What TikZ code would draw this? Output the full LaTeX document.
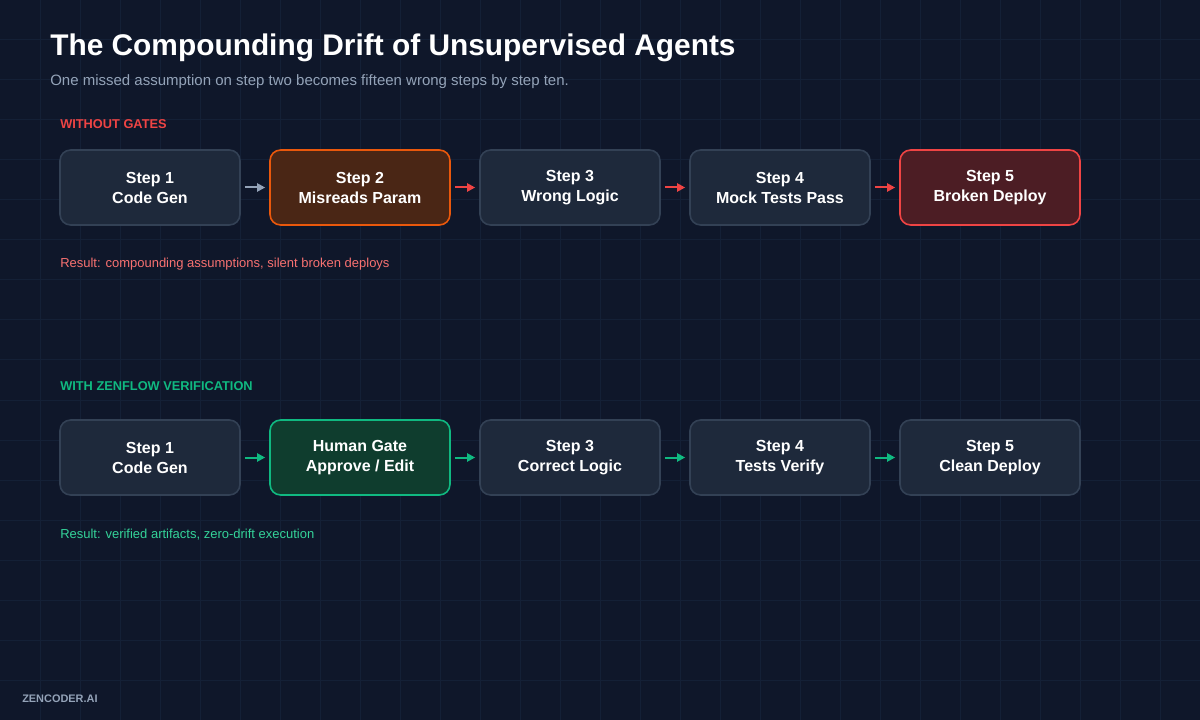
\documentclass[tikz,border=0pt]{standalone}
\usepackage{fontspec}
\setmainfont{Liberation Sans}
\usetikzlibrary{arrows.meta}
\definecolor{bg}{HTML}{0F172A}
\definecolor{gridc}{HTML}{142036}
\definecolor{boxfill}{HTML}{1E293B}
\definecolor{boxline}{HTML}{334155}
\definecolor{subc}{HTML}{94A3B8}
\definecolor{redc}{HTML}{EF4444}
\definecolor{redtxt}{HTML}{F87171}
\definecolor{orangec}{HTML}{EA580C}
\definecolor{orangefill}{HTML}{4A2615}
\definecolor{redfill}{HTML}{4C1D24}
\definecolor{greenc}{HTML}{10B981}
\definecolor{greenfill}{HTML}{0F3D2E}
\definecolor{greentxt}{HTML}{34D399}
\definecolor{footc}{HTML}{94A3B8}
\tikzset{
  stepbox/.style={draw=boxline, fill=boxfill, line width=1.2pt, rounded corners=8pt,
    minimum width=135pt, minimum height=56.25pt, inner sep=0pt, align=center,
    font=\fontsize{12}{15}\selectfont\bfseries, text=white},
  warnbox/.style={stepbox, draw=orangec, fill=orangefill},
  failbox/.style={stepbox, draw=redc, fill=redfill},
  gatebox/.style={stepbox, draw=greenc, fill=greenfill},
  flow/.style={-{Triangle[length=6pt,width=6pt]}, line width=1.5pt, shorten <=3pt, shorten >=3pt},
  lbl/.style={anchor=base west, inner sep=0pt}
}
\begin{document}
\begin{tikzpicture}[x=0.75pt,y=-0.75pt]
\fill[bg] (0,0) rectangle (1200,720);
\useasboundingbox (0,0) rectangle (1200,720);
\foreach \i in {40,80,...,1160} \draw[gridc, line width=0.75pt] (\i,0) -- (\i,720);
\foreach \j in {40,80,...,680} \draw[gridc, line width=0.75pt] (0,\j) -- (1200,\j);

\node[lbl, text=white, font=\fontsize{22.4}{27}\selectfont\bfseries] (title) at (50,56) {The Compounding Drift of Unsupervised Agents};
\node[lbl, text=subc, font=\fontsize{11.25}{14}\selectfont] (sub) at (50,86) {One missed assumption on step two becomes fifteen wrong steps by step ten.};

\node[lbl, text=redc, font=\fontsize{9.6}{11}\selectfont\bfseries] (h1) at (60,129) {WITHOUT GATES};
\node[stepbox] (a1) at (150,187.5) {Step 1\\Code Gen};
\node[warnbox] (a2) at (360,187.5) {Step 2\\Misreads Param};
\node[stepbox] (a3) at (570,187.5) {Step 3\\Wrong Logic};
\node[stepbox] (a4) at (780,187.5) {Step 4\\Mock Tests Pass};
\node[failbox] (a5) at (990,187.5) {Step 5\\Broken Deploy};
\draw[flow, subc] (a1) -- (a2);
\draw[flow, redc] (a2) -- (a3);
\draw[flow, redc] (a3) -- (a4);
\draw[flow, redc] (a4) -- (a5);
\node[lbl, text=redtxt, font=\fontsize{9.75}{12}\selectfont] (r1) at (60,268) {Result: compounding assumptions, silent broken deploys};

\node[lbl, text=greenc, font=\fontsize{9.6}{11}\selectfont\bfseries] (h2) at (60,390) {WITH ZENFLOW VERIFICATION};
\node[stepbox] (b1) at (150,457.5) {Step 1\\Code Gen};
\node[gatebox] (b2) at (360,457.5) {Human Gate\\Approve / Edit};
\node[stepbox] (b3) at (570,457.5) {Step 3\\Correct Logic};
\node[stepbox] (b4) at (780,457.5) {Step 4\\Tests Verify};
\node[stepbox] (b5) at (990,457.5) {Step 5\\Clean Deploy};
\draw[flow, greenc] (b1) -- (b2);
\draw[flow, greenc] (b2) -- (b3);
\draw[flow, greenc] (b3) -- (b4);
\draw[flow, greenc] (b4) -- (b5);
\node[lbl, text=greentxt, font=\fontsize{9.75}{12}\selectfont] (r2) at (60,538) {Result: verified artifacts, zero-drift execution};

\node[lbl, text=footc, font=\fontsize{8.2}{9}\selectfont\bfseries] (foot) at (22,702) {ZENCODER.AI};
\end{tikzpicture}
\end{document}
